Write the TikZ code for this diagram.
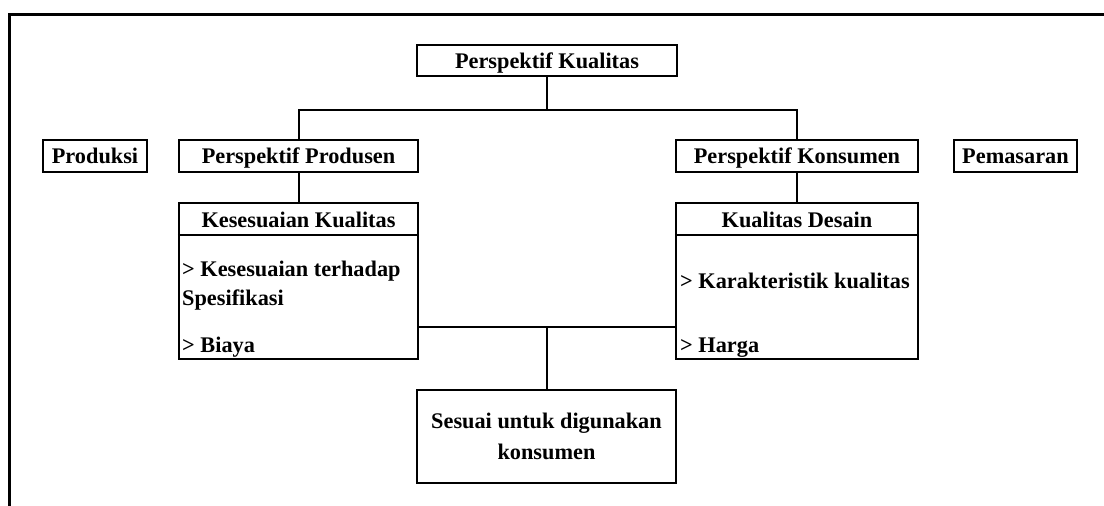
\documentclass[tikz,border=0pt]{standalone}
\usepackage{fontspec}
\setmainfont{Liberation Serif}
\newcommand\diafont{\fontsize{22.3}{31}\selectfont\bfseries}
\begin{document}
\begin{tikzpicture}[x=1pt, y=-1pt,
    box/.style={draw, line width=2.2pt, inner sep=0pt, font=\diafont},
    head/.style={box, text height=15pt, text depth=0pt},
    txt/.style={inner sep=0pt, anchor=base west, font=\diafont},
    link/.style={line width=2pt}]

    \useasboundingbox (0,0) rectangle (1104,506);
    \draw [line width=3pt] (9,506) -- (9,14) -- (1104,14);

    \node [head, minimum width=260pt, minimum height=31pt] (kualitas) at (547,60.5) {Perspektif Kualitas};
    \node [head, minimum width=104pt, minimum height=32pt] (produksi) at (95,156) {Produksi};
    \node [head, minimum width=239pt, minimum height=32pt] (produsen) at (298.5,156) {Perspektif Produsen};
    \node [head, minimum width=242pt, minimum height=32pt] (konsumen) at (797,156) {Perspektif Konsumen};
    \node [head, minimum width=123pt, minimum height=32pt] (pemasaran) at (1015.5,156) {Pemasaran};

    \node [box, minimum width=239pt, minimum height=156pt] (kesesuaian) at (298.5,281) {};
    \draw [line width=2.2pt] ([yshift=-33pt]kesesuaian.north west) -- ([yshift=-33pt]kesesuaian.north east);
    \node [txt, anchor=base] (kesesuaianjudul) at (298.5,227.5) {Kesesuaian Kualitas};
    \node [txt] (spesifikasi) at (182,276) {> Kesesuaian terhadap};
    \node [txt] (spesifikasi2) at (182,305) {Spesifikasi};
    \node [txt] (biaya) at (182,352) {> Biaya};

    \node [box, minimum width=242pt, minimum height=156pt] (desain) at (797,281) {};
    \draw [line width=2.2pt] ([yshift=-33pt]desain.north west) -- ([yshift=-33pt]desain.north east);
    \node [txt, anchor=base] (desainjudul) at (797,227) {Kualitas Desain};
    \node [txt] (karakteristik) at (680,288) {> Karakteristik kualitas};
    \node [txt] (harga) at (680,352) {> Harga};

    \node [box, minimum width=259pt, minimum height=93pt, align=center] (sesuai) at (546.5,436.5) {Sesuai untuk digunakan\\konsumen};

    \draw [link] (kualitas.south) -- ++(0,32.5) coordinate (cabang);
    \draw [link] (produsen.north) |- (cabang) -| (konsumen.north);
    \draw [link] (produsen.south) -- (kesesuaian.north);
    \draw [link] (konsumen.south) -- (desain.north);
    \coordinate (temu) at (546.5,327);
    \draw [link] (kesesuaian.east |- temu) -- (desain.west |- temu);
    \draw [link] (temu) -- (sesuai.north);
\end{tikzpicture}
\end{document}
